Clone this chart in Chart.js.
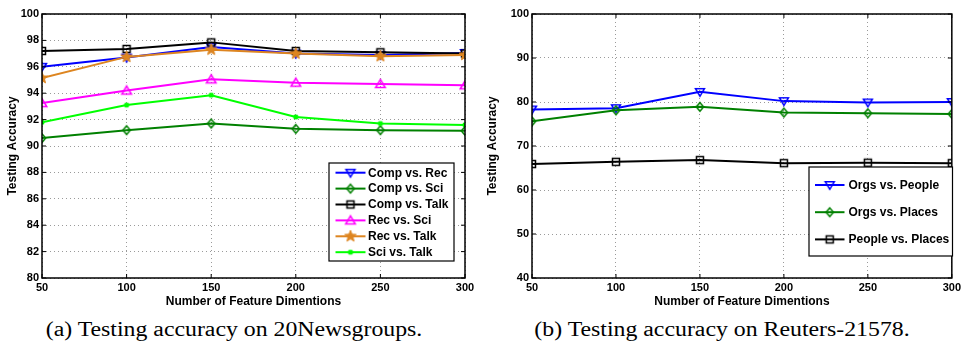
<!DOCTYPE html>
<html><head><meta charset="utf-8">
<script src="https://cdn.jsdelivr.net/npm/chart.js@4/dist/chart.umd.min.js"></script>
<style>
body{margin:0;background:#fff;width:964px;height:348px;overflow:hidden;position:relative}
canvas{position:absolute;top:0}
#c1{left:0}
#c2{left:480px}
.cap{position:absolute;top:317px;font-family:'Liberation Serif','Times New Roman',serif;font-size:20px;line-height:24px;white-space:nowrap;color:#000;transform:translateX(-50%) scaleX(1.19);}
#cap1{left:234px}
#cap2{left:722px}
</style></head>
<body>
<canvas id="c1" width="480" height="312"></canvas>
<canvas id="c2" width="484" height="312"></canvas>
<div class="cap" id="cap1">(a) Testing accuracy on 20Newsgroups.</div>
<div class="cap" id="cap2">(b) Testing accuracy on Reuters-21578.</div>
<script>
// ---------- data ----------
const dims = [50, 100, 150, 200, 250, 300];
const newsLabels = ['Comp vs. Rec', 'Comp vs. Sci', 'Comp vs. Talk', 'Rec vs. Sci', 'Rec vs. Talk', 'Sci vs. Talk'];
const compRec  = [96.0, 96.7, 97.5, 97.0, 96.9, 97.05];
const compSci  = [90.6, 91.2, 91.7, 91.3, 91.2, 91.15];
const compTalk = [97.2, 97.35, 97.85, 97.2, 97.1, 97.0];
const recSci   = [93.25, 94.2, 95.05, 94.8, 94.7, 94.6];
const recTalk  = [95.15, 96.75, 97.3, 97.0, 96.8, 96.9];
const sciTalk  = [91.8, 93.1, 93.85, 92.2, 91.7, 91.6];
const reutersLabels = ['Orgs vs. People', 'Orgs vs. Places', 'People vs. Places'];
const orgsPeople   = [78.3, 78.6, 82.3, 80.2, 79.9, 80.0];
const orgsPlaces   = [75.6, 78.1, 78.9, 77.6, 77.45, 77.3];
const peoplePlaces = [65.9, 66.4, 66.8, 66.1, 66.2, 66.1];
const xTitle = 'Number of Feature Dimentions';
const yTitle = 'Testing Accuracy';

// ---------- markers ----------
function makeMarker(type, color) {
  const c = document.createElement('canvas');
  c.width = 16; c.height = 16;
  const g = c.getContext('2d');
  const cx = 8, cy = 8;
  g.strokeStyle = color; g.fillStyle = color; g.lineWidth = 1.5;
  g.beginPath();
  if (type === 'triDown') {
    g.moveTo(cx - 4.5, cy - 3.3); g.lineTo(cx + 4.5, cy - 3.3); g.lineTo(cx, cy + 4.3); g.closePath(); g.stroke();
  } else if (type === 'triUp') {
    g.moveTo(cx - 4.8, cy + 3.5); g.lineTo(cx + 4.8, cy + 3.5); g.lineTo(cx, cy - 4.5); g.closePath(); g.stroke();
  } else if (type === 'diamond') {
    g.moveTo(cx, cy - 4.3); g.lineTo(cx + 3.7, cy); g.lineTo(cx, cy + 4.3); g.lineTo(cx - 3.7, cy); g.closePath(); g.stroke();
  } else if (type === 'square') {
    g.rect(cx - 3.5, cy - 3.5, 7, 7); g.stroke();
  } else if (type === 'star') {
    for (let i = 0; i < 10; i++) {
      const r = i % 2 === 0 ? 6 : 2.6;
      const a = -Math.PI / 2 + i * Math.PI / 5;
      const px = cx + r * Math.cos(a), py = cy + r * Math.sin(a);
      if (i === 0) g.moveTo(px, py); else g.lineTo(px, py);
    }
    g.closePath(); g.fill(); g.lineWidth = 1; g.stroke();
  } else if (type === 'asterisk') {
    const r = 2.6;
    g.moveTo(cx - r, cy); g.lineTo(cx + r, cy);
    g.moveTo(cx, cy - r); g.lineTo(cx, cy + r);
    g.moveTo(cx - r * 0.75, cy - r * 0.75); g.lineTo(cx + r * 0.75, cy + r * 0.75);
    g.moveTo(cx - r * 0.75, cy + r * 0.75); g.lineTo(cx + r * 0.75, cy - r * 0.75);
    g.stroke();
  }
  return c;
}

Chart.defaults.font.family = "'Liberation Sans', Arial, Helvetica, sans-serif";
Chart.defaults.color = '#000';

function series(label, values, color, marker, idx) {
  return {
    label: label,
    data: dims.map((d, i) => ({ x: d, y: values[i] })),
    borderColor: color,
    backgroundColor: color,
    borderWidth: 2,
    pointStyle: makeMarker(marker, color),
    pointRadius: 5,
    tension: 0,
    order: -idx
  };
}

const framePlugin = {
  id: 'frame',
  afterDraw(chart, args, opts) {
    const ctx = chart.ctx, a = chart.chartArea;
    const xs = chart.scales.x, ys = chart.scales.y;
    ctx.save();
    ctx.strokeStyle = '#000';
    ctx.lineWidth = 1.5;
    ctx.strokeRect(a.left, a.top, a.right - a.left, a.bottom - a.top);
    ctx.lineWidth = 1;
    ctx.beginPath();
    const L = 4;
    xs.ticks.forEach(t => {
      const px = xs.getPixelForValue(t.value);
      ctx.moveTo(px, a.bottom); ctx.lineTo(px, a.bottom - L);
      ctx.moveTo(px, a.top); ctx.lineTo(px, a.top + L);
    });
    ys.ticks.forEach(t => {
      const py = ys.getPixelForValue(t.value);
      ctx.moveTo(a.left, py); ctx.lineTo(a.left + L, py);
      ctx.moveTo(a.right, py); ctx.lineTo(a.right - L, py);
    });
    ctx.stroke();

    // legend box
    const lg = opts.legend;
    if (lg) {
      ctx.fillStyle = '#fff';
      ctx.fillRect(lg.x, lg.y, lg.w, lg.h);
      ctx.lineWidth = 1.2;
      ctx.strokeStyle = '#000';
      ctx.strokeRect(lg.x, lg.y, lg.w, lg.h);
      ctx.font = "bold 12px 'Liberation Sans', Arial, sans-serif";
      ctx.textBaseline = 'middle';
      ctx.textAlign = 'left';
      chart.data.datasets.forEach((ds, i) => {
        const ry = lg.y0 + i * lg.dy;
        ctx.strokeStyle = ds.borderColor;
        ctx.lineWidth = 2;
        ctx.beginPath();
        ctx.moveTo(lg.x1, ry); ctx.lineTo(lg.x2, ry);
        ctx.stroke();
        const m = ds.pointStyle;
        ctx.drawImage(m, (lg.x1 + lg.x2) / 2 - m.width / 2, ry - m.height / 2);
        ctx.fillStyle = '#000';
        ctx.fillText(ds.label, lg.tx, ry + 0.5);
      });
    }
    ctx.restore();
  }
};

function makeOptions(yMin, yMax, yStep, yWidth, padRight, legend) {
  return {
    responsive: false,
    animation: false,
    events: [],
    layout: { padding: { left: 0, right: padRight, top: 14, bottom: 0 } },
    plugins: {
      legend: { display: false },
      tooltip: { enabled: false },
      frame: { legend: legend }
    },
    scales: {
      x: {
        type: 'linear', min: 50, max: 300,
        ticks: { stepSize: 50, font: { size: 11, weight: 'bold' }, padding: 3, color: '#000' },
        grid: { color: '#9a9a9a', lineWidth: 1, drawTicks: false },
        border: { display: false, dash: [1, 3] },
        title: { display: true, text: xTitle, font: { size: 12, weight: 'bold' }, padding: { top: 0, bottom: 3 }, color: '#000' },
        afterFit: s => { s.height = 312 - 278; }
      },
      y: {
        min: yMin, max: yMax,
        ticks: { stepSize: yStep, font: { size: 11, weight: 'bold' }, padding: 3, color: '#000' },
        grid: { color: '#9a9a9a', lineWidth: 1, drawTicks: false },
        border: { display: false, dash: [1, 3] },
        title: { display: true, text: yTitle, font: { size: 12, weight: 'bold' }, padding: { top: 5, bottom: 0 }, color: '#000' },
        afterFit: s => { s.width = yWidth; }
      }
    }
  };
}

new Chart(document.getElementById('c1'), {
  type: 'line',
  data: {
    datasets: [
      series(newsLabels[0], compRec, '#0000ff', 'triDown', 0),
      series(newsLabels[1], compSci, '#008000', 'diamond', 1),
      series(newsLabels[2], compTalk, '#000000', 'square', 2),
      series(newsLabels[3], recSci, '#ff00ff', 'triUp', 3),
      series(newsLabels[4], recTalk, '#dd8520', 'star', 4),
      series(newsLabels[5], sciTalk, '#00ff00', 'asterisk', 5)
    ]
  },
  options: makeOptions(80, 100, 2, 42, 15,
    { x: 329, y: 163, w: 125, h: 98, y0: 172.7, dy: 15.9, x1: 335.5, x2: 365.5, tx: 368 }),
  plugins: [framePlugin]
});

new Chart(document.getElementById('c2'), {
  type: 'line',
  data: {
    datasets: [
      series(reutersLabels[0], orgsPeople, '#0000ff', 'triDown', 0),
      series(reutersLabels[1], orgsPlaces, '#008000', 'diamond', 1),
      series(reutersLabels[2], peoplePlaces, '#000000', 'square', 2)
    ]
  },
  options: makeOptions(40, 100, 10, 52, 10,
    { x: 329, y: 167, w: 143.5, h: 89, y0: 185, dy: 27.2, x1: 335, x2: 364.5, tx: 368.5 }),
  plugins: [framePlugin]
});
</script>
</body></html>
